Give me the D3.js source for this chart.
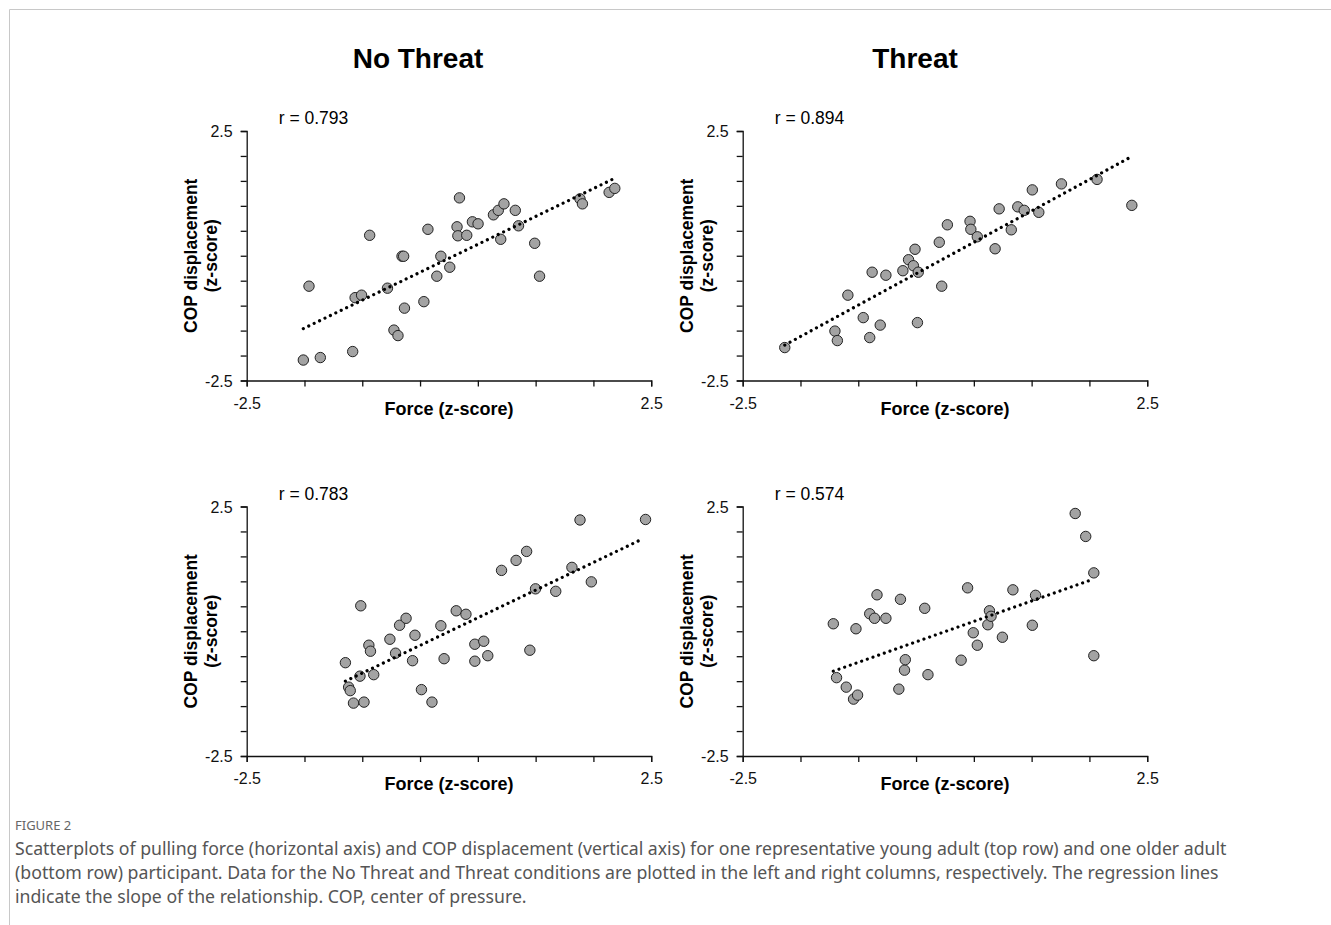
<!DOCTYPE html>
<html>
<head>
<meta charset="utf-8">
<script src="https://cdn.jsdelivr.net/npm/d3@7"></script>
<style>
    body { margin: 0; background: #fff; }
    svg { display: block; }
</style>
</head>
<body>
<div id="chart"></div>
<script>
// Young adult, No Threat (top left)
var youngNoThreatX = [-1.80, -1.59, -1.73, -1.19, -1.16, -1.08, -0.98, -0.76, -0.68, -0.63, -0.58, -0.56,
    -0.55, -0.31, -0.26, -0.15, -0.10, 0.01, 0.10, 0.11, 0.13, 0.22, 0.29, 0.36, 0.55, 0.61, 0.64, 0.68,
    0.82, 0.86, 1.06, 1.12, 1.62, 1.65, 1.98, 2.05];
var youngNoThreatY = [-2.09, -2.04, -0.61, -1.92, -0.84, -0.79, 0.41, -0.65, -1.49, -1.60, -0.01, -0.01,
    -1.05, -0.92, 0.53, -0.41, -0.01, -0.23, 0.58, 0.40, 1.16, 0.41, 0.68, 0.64, 0.82, 0.91, 0.33, 1.04,
    0.91, 0.60, 0.25, -0.41, 1.14, 1.04, 1.27, 1.35];
var youngNoThreatFit = [[-1.80, -1.46], [2.02, 1.53]];

// Young adult, Threat (top right)
var youngThreatX = [-1.98, -1.36, -1.33, -1.20, -1.01, -0.93, -0.90, -0.80, -0.73, -0.52, -0.45, -0.39,
    -0.37, -0.34, -0.33, -0.07, -0.04, 0.03, 0.31, 0.32, 0.40, 0.62, 0.67, 0.82, 0.90, 0.98, 1.08, 1.16,
    1.44, 1.88, 2.31];
var youngThreatY = [-1.84, -1.51, -1.70, -0.79, -1.24, -1.64, -0.33, -1.39, -0.39, -0.30, -0.08, -0.20,
    0.13, -1.34, -0.33, 0.27, -0.61, 0.62, 0.69, 0.53, 0.38, 0.14, 0.94, 0.52, 0.98, 0.91, 1.32, 0.87,
    1.44, 1.53, 1.01];
var youngThreatFit = [[-1.98, -1.79], [2.31, 1.99]];

// Older adult, No Threat (bottom left)
var olderNoThreatX = [-1.28, -1.24, -1.22, -1.18, -1.10, -1.09, -1.05, -0.99, -0.97, -0.93, -0.73, -0.66,
    -0.61, -0.53, -0.45, -0.42, -0.34, -0.21, -0.10, -0.06, 0.09, 0.21, 0.32, 0.32, 0.43, 0.48, 0.65, 0.83,
    0.96, 1.00, 1.07, 1.32, 1.52, 1.62, 1.76, 2.43];
var olderNoThreatY = [-0.63, -1.12, -1.19, -1.44, -0.90, 0.51, -1.42, -0.28, -0.40, -0.87, -0.16, -0.44,
    0.12, 0.26, -0.59, -0.08, -1.17, -1.42, 0.11, -0.55, 0.41, 0.34, -0.26, -0.60, -0.20, -0.49, 1.22, 1.42,
    1.60, -0.38, 0.85, 0.80, 1.28, 2.23, 0.99, 2.24];
var olderNoThreatFit = [[-1.28, -1.00], [2.38, 1.84]];

// Older adult, Threat (bottom right)
var olderThreatX = [-1.38, -1.34, -1.22, -1.10, -1.13, -1.08, -0.93, -0.87, -0.84, -0.73, -0.57, -0.55,
    -0.50, -0.49, -0.25, -0.21, 0.20, 0.28, 0.35, 0.40, 0.53, 0.55, 0.57, 0.71, 0.84, 1.08, 1.12, 1.61,
    1.74, 1.84, 1.84];
var olderThreatY = [0.15, -0.93, -1.12, 0.05, -1.36, -1.28, 0.35, 0.26, 0.73, 0.26, -1.16, 0.64,
    -0.78, -0.57, 0.46, -0.87, -0.58, 0.87, -0.03, -0.28, 0.13, 0.41, 0.30, -0.12, 0.83, 0.12, 0.72, 2.36,
    1.90, 1.17, -0.49];
var olderThreatFit = [[-1.38, -0.80], [1.81, 1.03]];

var columnTitles = ["No Threat", "Threat"];
var rValues = ["r = 0.793", "r = 0.894", "r = 0.783", "r = 0.574"];
var axisDomain = [-2.5, 2.5];
var xTickValues = d3.range(8).map(function(k) { return -2.5 + k * 5 / 7; });
var yTickValues = d3.range(11).map(function(k) { return -2.5 + k * 0.5; });

var captionHead = "FIGURE 2";
var captionLines = [
    "Scatterplots of pulling force (horizontal axis) and COP displacement (vertical axis) for one representative young adult (top row) and one older adult",
    "(bottom row) participant. Data for the No Threat and Threat conditions are plotted in the left and right columns, respectively. The regression lines",
    "indicate the slope of the relationship. COP, center of pressure."
];

var panels = [
    { x: youngNoThreatX, y: youngNoThreatY, fit: youngNoThreatFit, r: rValues[0], left: 246.7, top: 131 },
    { x: youngThreatX, y: youngThreatY, fit: youngThreatFit, r: rValues[1], left: 742.7, top: 131 },
    { x: olderNoThreatX, y: olderNoThreatY, fit: olderNoThreatFit, r: rValues[2], left: 246.7, top: 506.5 },
    { x: olderThreatX, y: olderThreatY, fit: olderThreatFit, r: rValues[3], left: 742.7, top: 506.5 }
];

var width = 1331, height = 925;
var plotW = 404.5, plotH = 249.5;
var font = "'Liberation Sans', Arial, sans-serif";

// end labels only, with a plain hyphen like the original
function endLabel(ticks) {
    return function(d, i) { return (i == 0 || i == ticks.length - 1) ? d.toFixed(1) : ""; };
}

var svg = d3.select("#chart").append("svg")
    .attr("width", width)
    .attr("height", height);

// card border (top and left edge)
svg.append("path")
    .attr("d", "M9.5," + height + "V9.5H" + width)
    .attr("fill", "none")
    .attr("stroke", "#c8c8c8")
    .attr("stroke-width", 1);

// column titles
svg.selectAll(".col-title")
    .data(columnTitles)
    .enter().append("text")
    .attr("class", "col-title")
    .attr("x", function(d, i) { return i == 0 ? 418 : 915; })
    .attr("y", 68)
    .attr("text-anchor", "middle")
    .style("font-family", font)
    .style("font-weight", "bold")
    .style("font-size", "28px")
    .text(function(d) { return d; });

panels.forEach(function(p) {
    var x = d3.scaleLinear().domain(axisDomain).range([0, plotW]);
    var y = d3.scaleLinear().domain(axisDomain).range([plotH, 0]);

    var g = svg.append("g")
        .attr("transform", "translate(" + p.left + "," + p.top + ")");

    var xAxis = d3.axisBottom(x)
        .tickValues(xTickValues)
        .tickSize(6)
        .tickPadding(11)
        .tickFormat(endLabel(xTickValues));

    var yAxis = d3.axisLeft(y)
        .tickValues(yTickValues)
        .tickSize(6)
        .tickPadding(8)
        .tickFormat(endLabel(yTickValues));

    var gx = g.append("g")
        .attr("transform", "translate(0," + plotH + ")")
        .call(xAxis);
    var gy = g.append("g").call(yAxis);

    [gx, gy].forEach(function(a) {
        a.select(".domain").attr("stroke", "#111").attr("stroke-width", 1.3);
        a.selectAll(".tick line").attr("stroke", "#111").attr("stroke-width", 1.3);
        a.selectAll(".tick text")
            .attr("fill", "#111")
            .style("font-family", font)
            .style("font-size", "16px");
    });
    gy.selectAll(".tick text").attr("dy", "0.36em");

    // axis labels
    g.append("text")
        .attr("x", plotW / 2)
        .attr("y", plotH + 34)
        .attr("text-anchor", "middle")
        .style("font-family", font)
        .style("font-weight", "bold")
        .style("font-size", "18px")
        .text("Force (z-score)");

    var yl = g.append("text")
        .attr("transform", "translate(-50," + (plotH / 2) + ") rotate(-90)")
        .attr("text-anchor", "middle")
        .style("font-family", font)
        .style("font-weight", "bold")
        .style("font-size", "17.5px");
    yl.append("tspan").attr("x", 0).attr("dy", 0).text("COP displacement");
    yl.append("tspan").attr("x", 0).attr("dy", "1.15em").text("(z-score)");

    g.append("text")
        .attr("x", 32)
        .attr("y", -7)
        .style("font-family", font)
        .style("font-size", "17.5px")
        .text(p.r);

    var pts = p.x.map(function(v, i) { return [v, p.y[i]]; });

    g.selectAll(".pt")
        .data(pts)
        .enter().append("circle")
        .attr("class", "pt")
        .attr("cx", function(d) { return x(d[0]); })
        .attr("cy", function(d) { return y(d[1]); })
        .attr("r", 5.2)
        .attr("fill", "#a3a3a3")
        .attr("stroke", "#222")
        .attr("stroke-width", 1);

    g.append("path")
        .datum(p.fit)
        .attr("d", d3.line()
            .x(function(d) { return x(d[0]); })
            .y(function(d) { return y(d[1]); }))
        .attr("fill", "none")
        .attr("stroke", "#000")
        .attr("stroke-width", 3.2)
        .attr("stroke-linecap", "round")
        .attr("stroke-dasharray", "0.01 6");
});

// caption
svg.append("text")
    .attr("x", 15)
    .attr("y", 830)
    .attr("fill", "#666")
    .style("font-family", "'Noto Sans', sans-serif")
    .style("font-size", "13px")
    .text(captionHead);

svg.selectAll(".caption")
    .data(captionLines)
    .enter().append("text")
    .attr("class", "caption")
    .attr("x", 15)
    .attr("y", function(d, i) { return 855 + i * 24; })
    .attr("fill", "#555")
    .style("font-family", "'Noto Sans', sans-serif")
    .style("font-size", "17.7px")
    .text(function(d) { return d; });
</script>
</body>
</html>
